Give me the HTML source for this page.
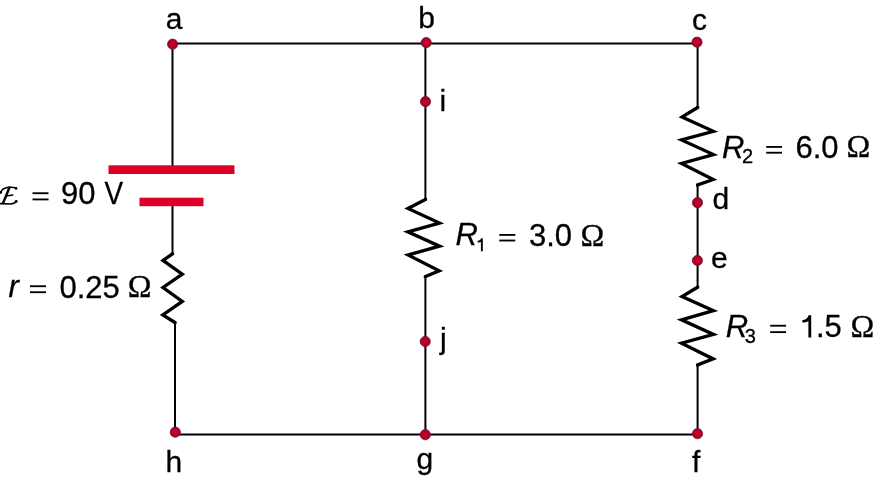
<!DOCTYPE html>
<html><head><meta charset="utf-8"><style>
html,body{margin:0;padding:0;background:#fff;width:875px;height:479px;overflow:hidden}
svg{display:block;will-change:transform}
text{font-family:"Liberation Sans",sans-serif;fill:#000;stroke:#000;stroke-width:0.3px}
.serif text{font-family:"Liberation Serif",serif}
</style></head><body>
<svg width="875" height="479" viewBox="0 0 875 479">
<g fill="none" stroke="#000" stroke-width="2" stroke-linejoin="miter" stroke-linecap="butt">
  <path d="M172.5,43.4 H697.6"/>
  <path d="M175,434.5 H697.6"/>
  <path d="M172.5,43 V169"/>
  <path d="M172.5,202 V253"/>
  <path d="M175,323 V434.5"/>
  <path d="M425.4,43 V199"/>
  <path d="M425.4,277 V434.5"/>
  <path d="M697.6,43 V107"/>
  <path d="M697.6,185 V287"/>
  <path d="M697.6,365 V434.5"/>
</g>
<g fill="none" stroke="#000" stroke-width="3.3" stroke-linejoin="miter" stroke-miterlimit="10">
  <!-- r -->
  <path d="M172.5,252.5 V253.8 L163,260.4 L182.3,274.2 L163,287.5 L182.3,301.4 L162.8,315 L175,322.5 V324"/>
  <!-- R1 -->
  <path d="M425.4,198 V199.5 L408,208.5 L439.5,223 L407.8,231.8 L439.6,246.2 L408.1,255 L439.2,270.9 L425.4,276.5 V278"/>
  <!-- R2 -->
  <path d="M697.6,106 V107.5 L682,117 L713.4,131.3 L681.5,140 L713.5,154.6 L681.5,163.5 L713.2,179.5 L697.6,185 V186.5"/>
  <!-- R3 -->
  <path d="M697.6,285.7 V287.2 L682,296.6 L713.4,310.7 L681.5,319.8 L713.5,334.4 L681.5,343.2 L713.2,358.9 L697.6,365 V366.5"/>
</g>
<!-- battery plates -->
<g fill="#dc0028">
  <rect x="108.5" y="165.3" width="126" height="8.7"/>
  <rect x="139.5" y="197.7" width="64" height="8.5"/>
</g>
<!-- dots -->
<defs><radialGradient id="dg" cx="0.5" cy="0.5" r="0.5"><stop offset="0" stop-color="#d2001c"/><stop offset="0.55" stop-color="#bc0026"/><stop offset="1" stop-color="#8a0830"/></radialGradient></defs>
<g fill="url(#dg)" stroke="#7e0c2c" stroke-width="0.8">
  <circle cx="172.6" cy="44.2" r="5.1"/>
  <circle cx="426.2" cy="42.6" r="5.1"/>
  <circle cx="697" cy="42.2" r="5.1"/>
  <circle cx="425.5" cy="101.6" r="5.1"/>
  <circle cx="425.2" cy="341.5" r="5.1"/>
  <circle cx="697.5" cy="202.7" r="5.1"/>
  <circle cx="697.4" cy="260.5" r="5.1"/>
  <circle cx="175.3" cy="432.2" r="5.1"/>
  <circle cx="425.3" cy="434.7" r="5.1"/>
  <circle cx="697.5" cy="433.7" r="5.1"/>
</g>
<!-- node labels -->
<g font-size="30">
  <text x="165.8" y="29.3">a</text>
  <text x="418.3" y="28.2">b</text>
  <text x="692" y="29.8">c</text>
  <text x="439.5" y="111">i</text>
  <text x="440" y="348.5">j</text>
  <text x="712.5" y="209">d</text>
  <text x="711" y="268">e</text>
  <text x="165.5" y="471.5">h</text>
  <text x="416.5" y="469">g</text>
  <text x="692" y="471.5">f</text>
</g>
<!-- value labels -->
<g font-size="31">
  <text x="61" y="204">90</text>
  <text transform="translate(104.5,204) scale(0.9,1)">V</text>
  <text x="59.5" y="297.5">0.25</text>
  <text x="529" y="245.5">3.0</text>
  <text x="795.5" y="158">6.0</text>
  <text x="816" y="337">.5</text>
  <text x="8.5" y="297.3" font-style="italic">r</text>
  <text x="455.5" y="245" font-style="italic">R</text>
  <text x="722" y="157.5" font-style="italic">R</text>
  <text x="725.8" y="336.6" font-style="italic">R</text>
</g>
<g font-size="32" class="serif">
  <text x="127.8" y="297">Ω</text>
  <text x="580.4" y="245.5">Ω</text>
  <text x="846.4" y="157">Ω</text>
  <text x="850.6" y="337">Ω</text>
</g>
<g font-size="20">
  <text x="741.9" y="163.3">2</text>
  <text x="744.8" y="342.7">3</text>
</g>
<g fill="#000">
  <path d="M482.8,238.3 V251.3 H480.9 V242.1 C479.9,242.5 478.7,242.6 477.6,242.6 V240.9 C479.5,240.7 480.6,239.8 481.1,238.3 Z"/>
  <path d="M811.2,315.2 V337.4 H808.4 V321.3 C806.9,322.2 804.5,322.6 802.4,322.6 V320 C805.5,319.8 807.7,318.3 808.6,315.2 Z"/>
</g>
<!-- equals signs -->
<g fill="#000">
  <rect x="32.5" y="192.3" width="16" height="1.85"/><rect x="32.5" y="198.5" width="16" height="1.85"/>
  <rect x="30" y="285.3" width="16" height="1.85"/><rect x="30" y="291.3" width="16" height="1.85"/>
  <rect x="499.3" y="234" width="16" height="1.85"/><rect x="499.3" y="239.6" width="16" height="1.85"/>
  <rect x="766.2" y="146" width="15.8" height="1.85"/><rect x="766.2" y="151.8" width="15.8" height="1.85"/>
  <rect x="770.2" y="324.8" width="15.9" height="1.85"/><rect x="770.2" y="331.2" width="15.9" height="1.85"/>
</g>
<!-- script E -->
<g fill="none" stroke="#000" stroke-linecap="round">
  <path d="M0.6,192.6 C1.6,189.6 5,187.6 9.5,187.3 C12,187.2 14.5,187.4 16.3,188.3" stroke-width="1.6"/>
  <path d="M9.4,187.5 C7.6,192 5.2,198.3 3,203" stroke-width="2.4"/>
  <path d="M6.2,196 L12.8,195.1" stroke-width="1.5"/>
  <path d="M0,203.7 L10.5,204 C13,204 15,203 16.3,201.3" stroke-width="1.7"/>
</g>
<g fill="#000">
  <circle cx="16.1" cy="188.4" r="1.3"/>
  <circle cx="16.2" cy="201.4" r="1.3"/>
  <circle cx="0.7" cy="192.4" r="1.3"/>
</g>
</svg>
</body></html>
